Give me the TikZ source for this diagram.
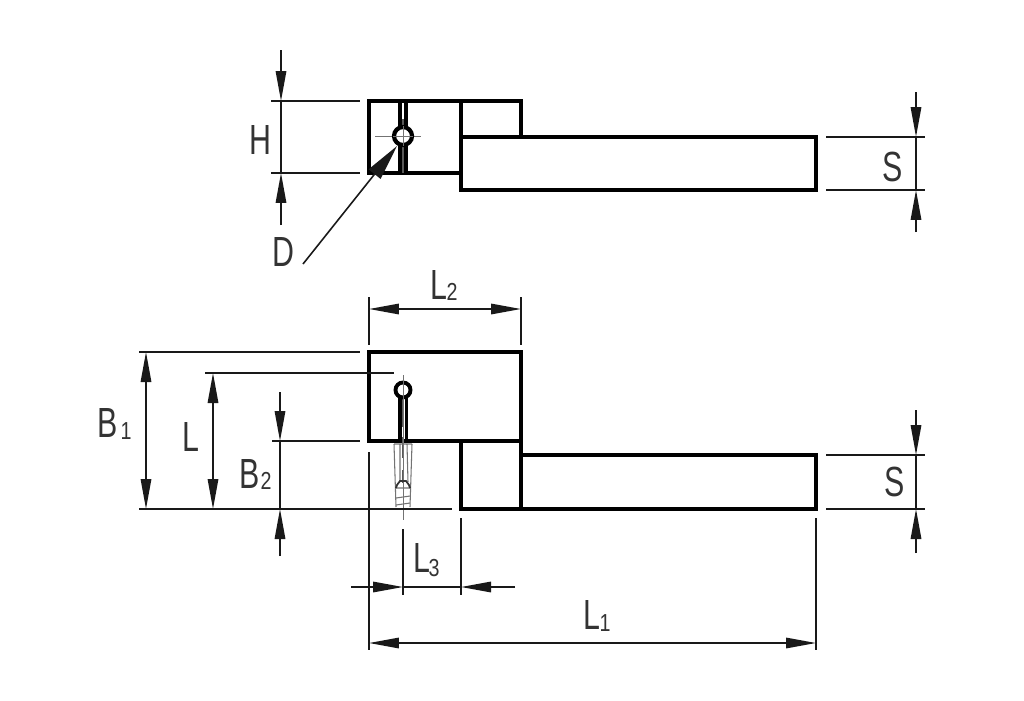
\documentclass[tikz,border=0pt]{standalone}
\usepackage{fontspec}
\setmainfont{Liberation Sans}
\usetikzlibrary{arrows.meta}

\begin{document}
\begin{tikzpicture}[x=0.02cm,y=-0.02cm,>={Triangle[length=0.6cm,width=0.21cm]}]
  \tikzstyle{outline} = [line width=2.2pt,black,line join=miter]
  \tikzstyle{dim} = [line width=0.9pt,black!90]
  \tikzstyle{fine} = [line width=0.4pt,black!55]
  \tikzstyle{pin} = [line width=1.6pt,black!65]
  \tikzstyle{label} = [font=\fontsize{24}{24}\selectfont,text=black!80,inner sep=0pt,xscale=0.72]
  \tikzstyle{index} = [font=\fontsize{14}{14}\selectfont,text=black!80,inner sep=0pt,xscale=0.8]

  \useasboundingbox (0,0) rectangle (1024,700);

  % upper view
  \coordinate (tl) at (369,101);
  \coordinate (tm) at (461,173);
  \coordinate (tabl) at (461,101);
  \coordinate (tabr) at (521,137);
  \coordinate (barl) at (461,137);
  \coordinate (barr) at (816,190);
  \coordinate (hole) at (403,136);

  \draw[outline] (tl) rectangle (tm);
  \draw[outline] (tabl) rectangle (tabr);
  \draw[outline] (barl) rectangle (barr);
  \draw[outline] (400,101) -- (400,173) (406,101) -- (406,173);
  \draw[pin] (403,119) -- (403,173);
  \draw[fine] (375,136) -- (421,136);
  \draw[outline,fill=white,line width=2.4pt] (hole) circle (9);
  \draw[fine] (393,136) -- (413,136) (403,126) -- (403,146);

  % H
  \coordinate (ha) at (271,101);
  \coordinate (hb) at (360,101);
  \coordinate (hc) at (271,173);
  \coordinate (hd) at (360,173);
  \coordinate (he) at (281,50);
  \coordinate (hf) at (281,101);
  \coordinate (hg) at (281,173);
  \coordinate (hh) at (281,225);
  \draw[dim] (ha) -- (hb);
  \draw[dim] (hc) -- (hd);
  \draw[dim,->] (he) -- (hf);
  \draw[dim,->] (hh) -- (hg);
  \draw[dim] (hf) -- (hg);
  \node[label] (H) at (260,140) {H};

  % D
  \coordinate (da) at (303,264);
  \coordinate (db) at (397,146);
  \draw[dim,-{Triangle[length=0.72cm,width=0.3cm]}] (da) -- (db);
  \node[label] (D) at (283,252) {D};

  % S, upper
  \coordinate (sa) at (826,137);
  \coordinate (sb) at (925,137);
  \coordinate (sc) at (826,190);
  \coordinate (sd) at (925,190);
  \coordinate (se) at (916,92);
  \coordinate (sf) at (916,137);
  \coordinate (sg) at (916,190);
  \coordinate (sh) at (916,232);
  \draw[dim] (sa) -- (sb);
  \draw[dim] (sc) -- (sd);
  \draw[dim,->] (se) -- (sf);
  \draw[dim,->] (sh) -- (sg);
  \draw[dim] (sf) -- (sg);
  \node[label] (S1) at (893,167) {S};

  % lower view
  \coordinate (fl) at (369,352);
  \coordinate (fr) at (521,441);
  \coordinate (neckl) at (461,441);
  \coordinate (neckr) at (521,509);
  \coordinate (lbar) at (521,455);
  \coordinate (rbar) at (816,509);
  \coordinate (eye) at (403,390);

  \draw[outline] (fl) rectangle (fr);
  \draw[outline] (neckl) rectangle (neckr);
  \draw[outline] (lbar) rectangle (rbar);
  \draw[outline] (400,397) -- (400,441) (406.5,397) -- (406.5,441);
  \draw[pin] (403,398) -- (403,427) (403,437) -- (403,458) (403,470) -- (403,483);
  \draw[outline,fill=white] (eye) circle (7.5);
  % split pin
  \draw[fine] (403,375) -- (403,520);
  \draw[fine,line width=0.6pt] (394,444) -- (396,507) (412,444) -- (410,507)
    (394,444) -- (412,444)
    (400,444) -- (400,482) (407,444) -- (408,482)
    (396,488) -- (410,488) (396,498) -- (410,496) (396,505) -- (410,503);
  \draw[line width=1pt,black!80] (396,488) -- (397,485) -- (400,481) -- (406,481) -- (409,485) -- (410,488);

  % L2
  \coordinate (l2a) at (369,297);
  \coordinate (l2b) at (369,345);
  \coordinate (l2c) at (521,297);
  \coordinate (l2d) at (521,345);
  \coordinate (l2e) at (369,309);
  \coordinate (l2f) at (521,309);
  \draw[dim] (l2a) -- (l2b);
  \draw[dim] (l2c) -- (l2d);
  \draw[dim,<->] (l2e) -- (l2f);
  \node[label] (L2) at (439,285) {L};
  \node[index] (L2i) at (452,292) {2};

  % B1
  \coordinate (b1a) at (139,352);
  \coordinate (b1b) at (360,352);
  \coordinate (b1c) at (139,509);
  \coordinate (b1d) at (452,509);
  \coordinate (b1e) at (146,352);
  \coordinate (b1f) at (146,509);
  \draw[dim] (b1a) -- (b1b);
  \draw[dim] (b1c) -- (b1d);
  \draw[dim,<->] (b1e) -- (b1f);
  \node[label] (B1) at (108,423) {B};
  \node[index] (B1i) at (126,431) {1};

  % L
  \coordinate (la) at (205,373);
  \coordinate (lb) at (394,373);
  \coordinate (lc) at (213,373);
  \coordinate (ld) at (213,509);
  \draw[dim] (la) -- (lb);
  \draw[dim,<->] (lc) -- (ld);
  \node[label] (L) at (191,437) {L};

  % B2
  \coordinate (b2a) at (272,441);
  \coordinate (b2b) at (360,441);
  \coordinate (b2c) at (280,392);
  \coordinate (b2d) at (280,441);
  \coordinate (b2e) at (280,509);
  \coordinate (b2f) at (280,556);
  \draw[dim] (b2a) -- (b2b);
  \draw[dim,->] (b2c) -- (b2d);
  \draw[dim,->] (b2f) -- (b2e);
  \draw[dim] (b2d) -- (b2e);
  \node[label] (B2) at (250,474) {B};
  \node[index] (B2i) at (266,481) {2};

  % S, lower
  \coordinate (ta) at (826,455);
  \coordinate (tb) at (925,455);
  \coordinate (tc) at (826,509);
  \coordinate (td) at (925,509);
  \coordinate (te) at (916,410);
  \coordinate (tf) at (916,455);
  \coordinate (tg) at (916,509);
  \coordinate (th) at (916,553);
  \draw[dim] (ta) -- (tb);
  \draw[dim] (tc) -- (td);
  \draw[dim,->] (te) -- (tf);
  \draw[dim,->] (th) -- (tg);
  \draw[dim] (tf) -- (tg);
  \node[label] (S2) at (895,482) {S};

  % L3
  \coordinate (l3a) at (403,529);
  \coordinate (l3b) at (403,595);
  \coordinate (l3c) at (461,518);
  \coordinate (l3d) at (461,595);
  \coordinate (l3e) at (351,587);
  \coordinate (l3f) at (403,587);
  \coordinate (l3g) at (515,587);
  \coordinate (l3h) at (461,587);
  \draw[dim] (l3a) -- (l3b);
  \draw[dim] (l3c) -- (l3d);
  \draw[dim,->] (l3e) -- (l3f);
  \draw[dim,->] (l3g) -- (l3h);
  \draw[dim] (l3f) -- (l3h);
  \node[label] (L3) at (422,558) {L};
  \node[index] (L3i) at (434,568) {3};

  % L1
  \coordinate (l1a) at (369,452);
  \coordinate (l1b) at (369,650);
  \coordinate (l1c) at (816,518);
  \coordinate (l1d) at (816,650);
  \coordinate (l1e) at (369,643);
  \coordinate (l1f) at (816,643);
  \draw[dim] (l1a) -- (l1b);
  \draw[dim] (l1c) -- (l1d);
  \draw[dim,<->] (l1e) -- (l1f);
  \node[label] (L1) at (592,615) {L};
  \node[index] (L1i) at (605,623) {1};
\end{tikzpicture}
\end{document}
